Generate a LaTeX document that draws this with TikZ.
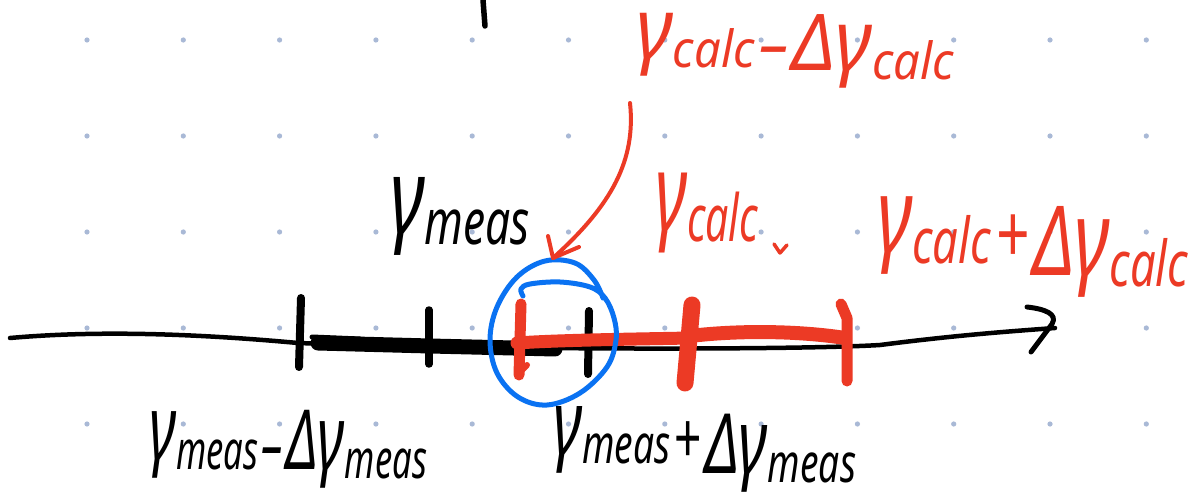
\documentclass[tikz,border=0pt]{standalone}
\usepackage{fontspec}
\setmainfont{Noto Sans}
\usepackage{graphicx}
\definecolor{redc}{HTML}{EC3A25}
\definecolor{bluec}{HTML}{0A72F2}
\definecolor{dotc}{HTML}{A9B9D6}
\newcommand{\gsym}[1]{{\fontsize{28}{28}\selectfont γ}\raisebox{-3pt}{\fontsize{17}{17}\selectfont #1}}
\newcommand{\hw}[3]{\resizebox*{#1pt}{#2pt}{\itshape #3}}
\newcommand{\opsym}[1]{\raisebox{-3pt}{\fontsize{22}{22}\selectfont #1}}
\tikzset{
  lab/.style={inner sep=0pt, outer sep=0pt, anchor=north west},
  blk/.style={draw=black, line cap=round, line join=round},
  rd/.style={draw=redc, line cap=round, line join=round},
  bl/.style={draw=bluec, line cap=round, line join=round}
}
\begin{document}
\begin{tikzpicture}[x=1pt,y=-1pt]
\fill[white] (0,0) rectangle (1194,497);
\useasboundingbox (0,0) rectangle (1194,497);
% dot grid
\foreach \i in {0,...,11}{
  \foreach \j in {0,...,4}{
    \fill[dotc] ({87+96.3*\i},{40+96*\j}) circle[radius=2.6pt];
  }
}
% top stray tick
\draw[blk, line width=5.5] (483,0) -- (485,26);
% axis
\draw[blk, line width=4.5] (10,338) .. controls (100,330) and (200,334) .. (298,343)
  .. controls (500,350) and (800,350) .. (880,345)
  .. controls (950,336) and (1000,332) .. (1055,328);
\draw[blk, line width=5] (1027,307) .. controls (1045,309) and (1058,314) .. (1052,324) -- (1031,352);
% black interval
\draw[blk, line width=15] (318,343) -- (430,346) -- (555,349);
\draw[blk, line width=5] (312,337) -- (360,339);
\draw[blk, line width=8] (301,298) -- (299,367);
\draw[blk, line width=7.5] (429,310) -- (429,364);
\draw[blk, line width=8] (589,311) -- (588,374);
% red interval
\draw[rd, line width=13] (517,343) .. controls (560,340) and (640,339) .. (690,338);
\draw[rd, line width=14] (690,336) .. controls (740,330) and (800,331) .. (845,338);
\draw[rd, line width=11] (521,304) -- (519,375);
\draw[rd, line width=6] (519,373) -- (527,365);
\draw[rd, line width=17] (692,305) -- (685,383);
\draw[rd, line width=11] (841,304) -- (847,318) -- (847,381);
% blue circle
\draw[bl, line width=5] plot[smooth, tension=0.6] coordinates {(523,296) (521,289) (530,284) (560,282) (590,287) (605,298) (614,318) (616,340) (607,367) (580,393) (547,405) (518,397) (497,373) (490,340) (497,307) (517,277) (545,261) (575,263) (594,280) (603,298)};
% red arrow
\coordinate (arrS) at (630,103);
\coordinate (arrT) at (553,258);
\draw[rd, line width=4] (arrS) .. controls (636,160) and (612,205) .. (arrT);
\draw[rd, line width=4] (548,236) -- (arrT) -- (579,247);
% labels
\node[lab, text=black] (gm) at (390,177) {\hw{140}{78}{\gsym{meas}}};
\node[lab, text=black] (gmm) at (149,410) {\hw{278}{78}{\gsym{meas}\,\opsym{–}\,\raisebox{-3pt}{{\fontsize{26}{26}\selectfont Δ}\gsym{meas}}}};
\node[lab, text=black] (gmp) at (553,406) {\hw{303}{86}{\gsym{meas}\,\opsym{+}\,\raisebox{-6pt}{{\fontsize{26}{26}\selectfont Δ}\gsym{meas}}}};
\node[lab, text=redc] (gcm) at (636,13) {\hw{318}{75}{\gsym{calc}\,\opsym{–}\,\raisebox{-4pt}{{\fontsize{26}{26}\selectfont Δ}\gsym{calc}}}};
\node[lab, text=redc] (gc) at (655,173) {\hw{103}{80}{\gsym{calc}}};
\draw[rd, line width=3.5] (774,244) -- (780,253) -- (787,245);
\node[lab, text=redc] (gcp) at (877,197) {\hw{311}{100}{\gsym{calc}\,\opsym{+}\,\raisebox{-6pt}{{\fontsize{26}{26}\selectfont Δ}\gsym{calc}}}};
\end{tikzpicture}
\end{document}
